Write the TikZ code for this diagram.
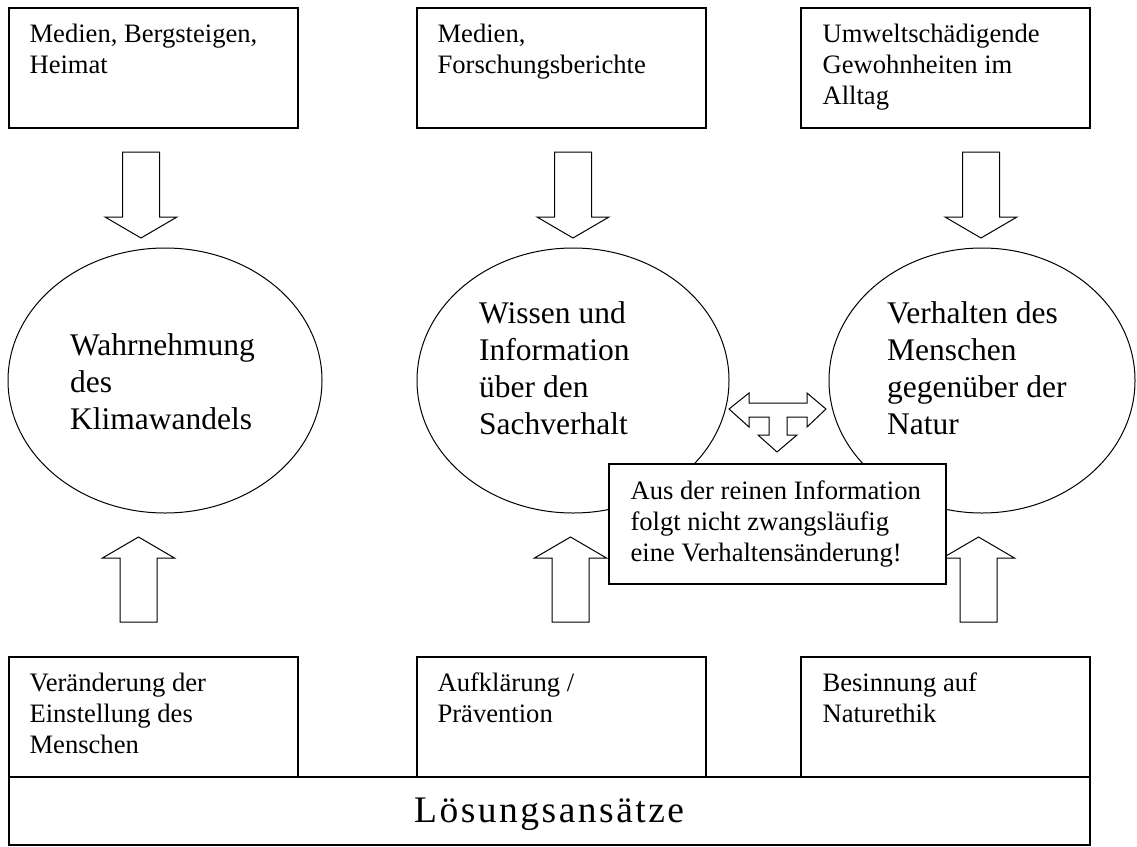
\documentclass[tikz,border=0pt]{standalone}
\usepackage{fontspec}
\setmainfont{Liberation Serif}
\usetikzlibrary{shapes.geometric}
\tikzset{
  box/.style={draw, line width=1.3pt, rectangle, minimum width=289pt, minimum height=120pt, inner sep=0pt, fill=white},
  ell/.style={draw, line width=1pt, ellipse, minimum height=265pt, inner sep=0pt},
  btxt/.style={anchor=base west, align=left, inner sep=0pt, font={\fontsize{26.6pt}{31pt}\selectfont}},
  etxt/.style={anchor=base west, align=left, inner sep=0pt, font={\fontsize{31.5pt}{37pt}\selectfont}},
  barrow/.style={draw, line width=1pt, fill=white, line join=miter},
  dnarrow/.pic={\draw[barrow] (-18.5,0) -- (18.5,0) -- (18.5,65) -- (36,65) -- (0,86) -- (-36,65) -- (-18.5,65) -- cycle;},
  uparrow/.pic={\draw[barrow] (-18.5,0) -- (18.5,0) -- (18.5,-64) -- (36,-64) -- (0,-85) -- (-36,-64) -- (-18.5,-64) -- cycle;},
  tarrow/.pic={\draw[barrow] (-48,0) -- (-28,-16) -- (-28,-6) -- (30,-6) -- (30,-16) -- (49,0) -- (30,18) -- (30,8) -- (10,8) -- (10,26) -- (20,26) -- (0,43) -- (-19,26) -- (-8,26) -- (-8,8) -- (-28,8) -- (-28,18) -- cycle;}
}
\newcommand{\lsp}{\kern2.5pt}
\begin{document}
\begin{tikzpicture}[x=1pt,y=-1pt]
\useasboundingbox (0,0) rectangle (1137,846);
% top boxes
\node[box] (t1) at (153.5,68) {};
\node[box] (t2) at (561.5,68) {};
\node[box] (t3) at (945.5,68) {};
\node[btxt] (t1x) at ([shift={(21,66)}]t1.north west) {Medien, Bergsteigen,\\Heimat};
\node[btxt] (t2x) at ([shift={(21,66)}]t2.north west) {Medien,\\Forschungsberichte};
\node[btxt] (t3x) at ([shift={(22,97)}]t3.north west) {Umweltschädigende\\Gewohnheiten im\\Alltag};
% ellipses
\node[ell, minimum width=314pt] (e1) at (165,380.5) {};
\node[ell, minimum width=312pt] (e2) at (573,380.5) {};
\node[ell, minimum width=306pt] (e3) at (982,380.5) {};
\node[etxt] (e1x) at ([shift={(-95,48.5)}]e1.center) {Wahrnehmung\\des\\Klimawandels};
\node[etxt] (e2x) at ([shift={(-94,53.5)}]e2.center) {Wissen und\\Information\\über den\\Sachverhalt};
\node[etxt] (e3x) at ([shift={(-95,53.5)}]e3.center) {Verhalten des\\Menschen\\gegenüber der\\Natur};
% down arrows
\pic at (141,152) {dnarrow};
\pic at (573,152) {dnarrow};
\pic at (981,152) {dnarrow};
% up arrows
\pic at (138.5,622) {uparrow};
\pic at (570.5,622) {uparrow};
\pic at (978.5,622) {uparrow};
% three-way arrow
\coordinate (tw) at (777,409);
\pic at (tw) {tarrow};
% note box
\node[box, minimum width=337pt, minimum height=120pt] (note) at (777.5,524) {};
\node[btxt] (notex) at ([shift={(22,98)}]note.north west) {Aus der reinen Information\\folgt nicht zwangsläufig\\eine Verhaltensänderung!};
% bottom boxes
\node[box] (b1) at (153.5,717) {};
\node[box] (b2) at (561.5,717) {};
\node[box] (b3) at (945.5,717) {};
\node[btxt] (b1x) at ([shift={(21,97)}]b1.north west) {Veränderung der\\Einstellung des\\Menschen};
\node[btxt] (b2x) at ([shift={(21,66)}]b2.north west) {Aufklärung /\\Prävention};
\node[btxt] (b3x) at ([shift={(22,66)}]b3.north west) {Besinnung auf\\Naturethik};
% base box
\node[box, minimum width=1081pt, minimum height=68pt] (base) at (549.5,811) {};
\node[anchor=base west, inner sep=0pt, font={\fontsize{37.5pt}{42pt}\selectfont}] (basex) at (414,822) {L\lsp ö\lsp s\lsp u\lsp n\lsp g\lsp s\lsp a\lsp n\lsp s\lsp ä\lsp t\lsp z\lsp e};
\end{tikzpicture}
\end{document}
